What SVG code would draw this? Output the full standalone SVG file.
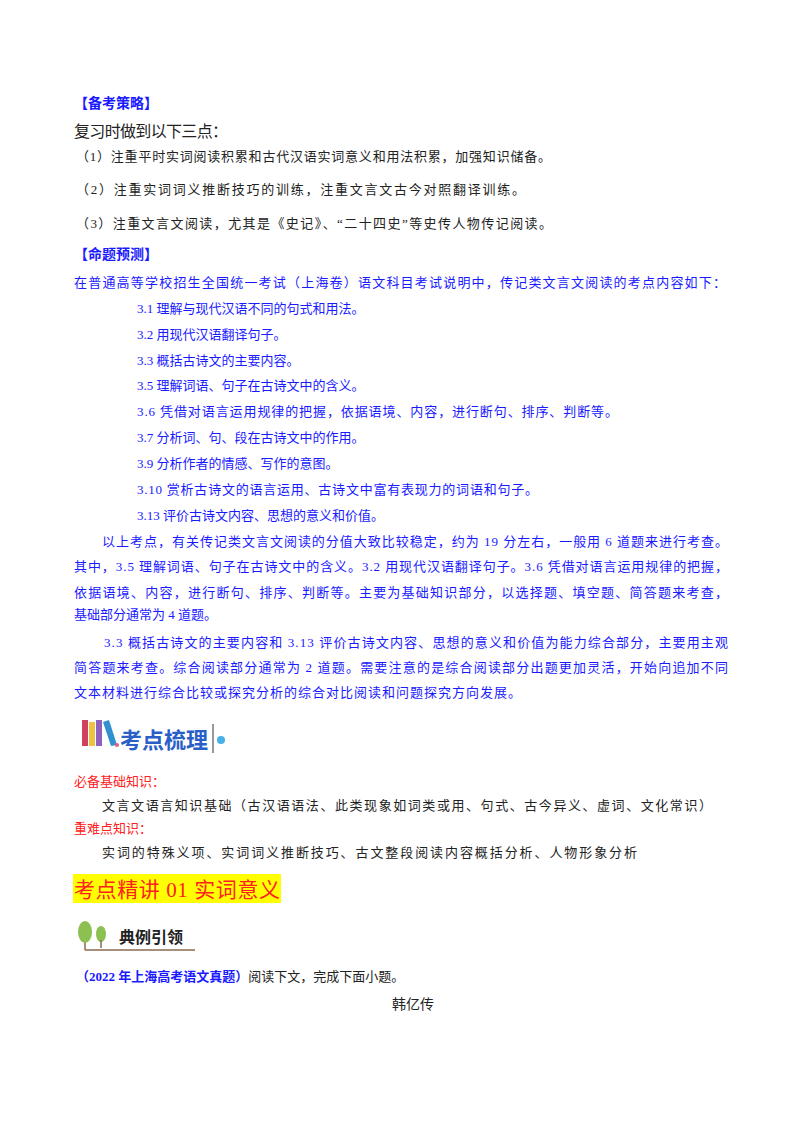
<svg xmlns="http://www.w3.org/2000/svg" width="800" height="1132" viewBox="0 0 800 1132">
<style>
text{font-family:"Liberation Serif","Noto Sans CJK SC",serif;font-size:13px;fill:#222}
.b{fill:#1a1aff}
.hb{fill:#1a1aff;font-weight:bold;font-size:14px}
.r{fill:#ff2020}
</style>
<rect width="800" height="1132" fill="#fff"/>
<text class="hb" x="74" y="108">【备考策略】</text>
<text x="74" y="137" style="font-size:16px" textLength="154">复习时做到以下三点：</text>
<text x="76" y="161" textLength="475">（1）注重平时实词阅读积累和古代汉语实词意义和用法积累，加强知识储备。</text>
<text x="76" y="194" textLength="449">（2）注重实词词义推断技巧的训练，注重文言文古今对照翻译训练。</text>
<text x="76" y="228" textLength="476">（3）注重文言文阅读，尤其是《史记》、“二十四史”等史传人物传记阅读。</text>
<text class="hb" x="74" y="259">【命题预测】</text>
<g class="b">
<text class="b" x="74" y="287" textLength="652">在普通高等学校招生全国统一考试（上海卷）语文科目考试说明中，传记类文言文阅读的考点内容如下：</text>
<text class="b" x="137" y="313">3.1 理解与现代汉语不同的句式和用法。</text>
<text class="b" x="137" y="339">3.2 用现代汉语翻译句子。</text>
<text class="b" x="137" y="365">3.3 概括古诗文的主要内容。</text>
<text class="b" x="137" y="390">3.5 理解词语、句子在古诗文中的含义。</text>
<text class="b" x="137" y="416" textLength="481">3.6 凭借对语言运用规律的把握，依据语境、内容，进行断句、排序、判断等。</text>
<text class="b" x="137" y="442">3.7 分析词、句、段在古诗文中的作用。</text>
<text class="b" x="137" y="468">3.9 分析作者的情感、写作的意图。</text>
<text class="b" x="137" y="494" textLength="401">3.10 赏析古诗文的语言运用、古诗文中富有表现力的词语和句子。</text>
<text class="b" x="137" y="520">3.13 评价古诗文内容、思想的意义和价值。</text>
<text class="b" x="102" y="546" textLength="626">以上考点，有关传记类文言文阅读的分值大致比较稳定，约为 19 分左右，一般用 6 道题来进行考查。</text>
<text class="b" x="74" y="571" textLength="654">其中，3.5 理解词语、句子在古诗文中的含义。3.2 用现代汉语翻译句子。3.6 凭借对语言运用规律的把握，</text>
<text class="b" x="74" y="597" textLength="654">依据语境、内容，进行断句、排序、判断等。主要为基础知识部分，以选择题、填空题、简答题来考查，</text>
<text class="b" x="74" y="619">基础部分通常为 4 道题。</text>
<text class="b" x="104" y="647" textLength="624">3.3 概括古诗文的主要内容和 3.13 评价古诗文内容、思想的意义和价值为能力综合部分，主要用主观</text>
<text class="b" x="74" y="672" textLength="654">简答题来考查。综合阅读部分通常为 2 道题。需要注意的是综合阅读部分出题更加灵活，开始向追加不同</text>
<text class="b" x="74" y="697" textLength="447">文本材料进行综合比较或探究分析的综合对比阅读和问题探究方向发展。</text>
</g>
<g id="icon1">
<rect x="82" y="720" width="6" height="26" fill="#d04060"/>
<rect x="89" y="722" width="6" height="24" fill="#f0c040"/>
<rect x="96" y="720" width="6" height="26" fill="#9060c0"/>
<polygon points="103,722 109,720 117,745 111,746" fill="#3090d0"/>
<circle cx="117" cy="745" r="2" fill="#e06080"/>
<text x="120" y="748" style="font-family:'Noto Sans CJK SC',sans-serif;font-size:22px;font-weight:bold;fill:#2a5fc8">考点梳理</text>
<line x1="213" y1="724" x2="213" y2="753" stroke="#333" stroke-width="1"/>
<circle cx="221" cy="740" r="4" fill="#4ab0e8"/>
</g>
<text class="r" x="74" y="786">必备基础知识：</text>
<text x="102" y="810" textLength="610">文言文语言知识基础（古汉语语法、此类现象如词类或用、句式、古今异义、虚词、文化常识）</text>
<text class="r" x="74" y="833">重难点知识：</text>
<text x="102" y="857" textLength="535">实词的特殊义项、实词词义推断技巧、古文整段阅读内容概括分析、人物形象分析</text>
<rect x="73" y="874" width="208" height="29" fill="#ffff00"/>
<text class="r" x="74" y="897" style="font-size:21px" textLength="206">考点精讲 01  实词意义</text>
<g id="icon2">
<line x1="85" y1="950" x2="195" y2="950" stroke="#8a6a50" stroke-width="1.5"/>
<line x1="85" y1="935" x2="85" y2="950" stroke="#8a6a50" stroke-width="1.5"/>
<ellipse cx="85" cy="932" rx="7" ry="11" fill="#8cc050"/>
<ellipse cx="101" cy="934" rx="5" ry="8" fill="#8cc050"/>
<line x1="101" y1="940" x2="101" y2="948" stroke="#8a6a50" stroke-width="1.5"/>
<text x="119" y="943" style="font-family:'Noto Sans CJK SC',sans-serif;font-size:16px;font-weight:bold">典例引领</text>
</g>
<text x="76" y="981"><tspan class="b" font-weight="bold">（2022 年上海高考语文真题）</tspan>阅读下文，完成下面小题。</text>
<text x="392" y="1009" style="font-family:'Noto Sans CJK SC',sans-serif;font-size:14px">韩亿传</text>
</svg>
